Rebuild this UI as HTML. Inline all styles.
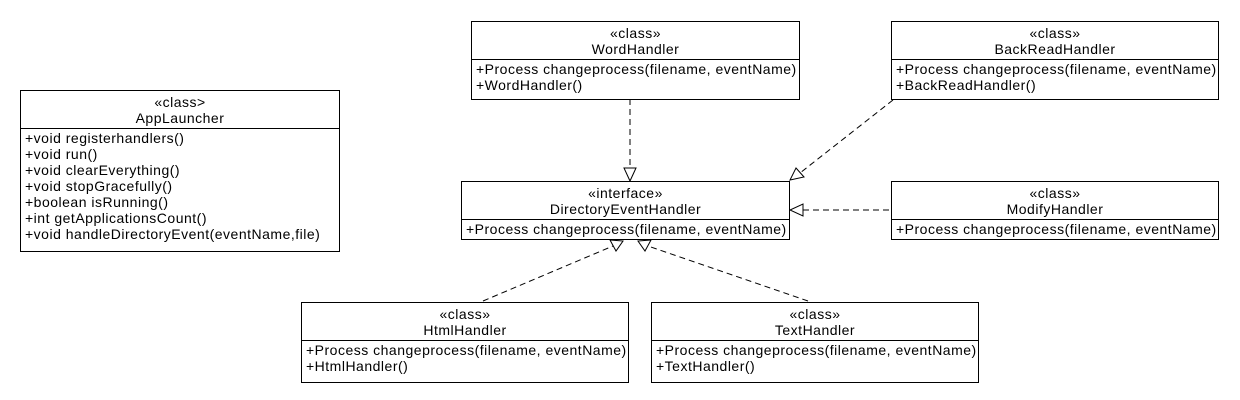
<!DOCTYPE html>
<html><head><meta charset="utf-8"><style>
body{margin:0;width:1240px;height:400px;background:#fff;position:relative;font-family:"Liberation Sans",sans-serif;font-size:14px;letter-spacing:0.5px;color:#000;overflow:hidden}
.b{position:absolute;border:1px solid #000;background:#fff;box-sizing:border-box}
.h{text-align:center;line-height:16px;padding:3px 0 2px;border-bottom:1px solid #000}
.m{line-height:16px;padding:1px 4px;white-space:nowrap}
svg{position:absolute;left:0;top:0}
</style></head><body>
<svg width="1240" height="400">
<g stroke="#000" stroke-width="1" fill="none" stroke-dasharray="6,4">
<line x1="630" y1="99" x2="630" y2="168"/>
<line x1="893" y1="100" x2="800" y2="173"/>
<line x1="889" y1="210" x2="803" y2="210"/>
<line x1="483" y1="301" x2="613" y2="246"/>
<line x1="808" y1="301" x2="648" y2="246"/>
</g>
<g stroke="#000" fill="#fff">
<polygon points="624,168 636,168 630,181"/>
<polygon points="796,168 804,177 790,180"/>
<polygon points="803,204 803,216 790,210"/>
<polygon points="610,240 616,251 623,241"/>
<polygon points="651,240 645,251 638,241"/>
</g>
</svg>
<div class="b" style="left:20px;top:90px;width:320px;height:162px"><div class="h">«class&gt;<br>AppLauncher</div><div class="m">+void registerhandlers()<br>+void run()<br>+void clearEverything()<br>+void stopGracefully()<br>+boolean isRunning()<br>+int getApplicationsCount()<br>+void handleDirectoryEvent(eventName,file)</div></div>
<div class="b" style="left:471px;top:21px;width:329px;height:79px"><div class="h">«class»<br>WordHandler</div><div class="m">+Process changeprocess(filename, eventName)<br>+WordHandler()</div></div>
<div class="b" style="left:891px;top:21px;width:328px;height:79px"><div class="h">«class»<br>BackReadHandler</div><div class="m">+Process changeprocess(filename, eventName)<br>+BackReadHandler()</div></div>
<div class="b" style="left:461px;top:181px;width:329px;height:59px"><div class="h">«interface»<br>DirectoryEventHandler</div><div class="m">+Process changeprocess(filename, eventName)</div></div>
<div class="b" style="left:891px;top:181px;width:328px;height:59px"><div class="h">«class»<br>ModifyHandler</div><div class="m">+Process changeprocess(filename, eventName)</div></div>
<div class="b" style="left:301px;top:302px;width:328px;height:81px"><div class="h">«class»<br>HtmlHandler</div><div class="m">+Process changeprocess(filename, eventName)<br>+HtmlHandler()</div></div>
<div class="b" style="left:651px;top:302px;width:328px;height:81px"><div class="h">«class»<br>TextHandler</div><div class="m">+Process changeprocess(filename, eventName)<br>+TextHandler()</div></div>
</body></html>
